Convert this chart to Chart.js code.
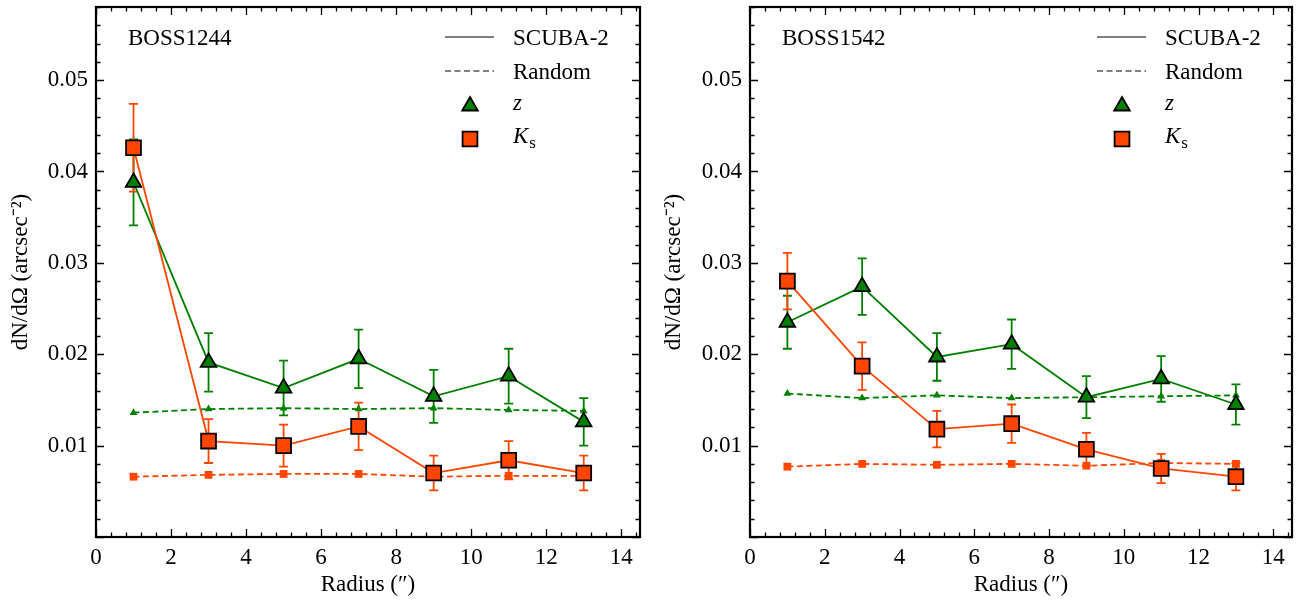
<!DOCTYPE html>
<html lang="en">
<head>
<meta charset="UTF-8" />
<title>dN/dΩ vs radius</title>
<script src="https://cdn.jsdelivr.net/npm/chart.js"></script>
<style>
  html, body { margin: 0; padding: 0; background: #fff; }
  #wrap { position: relative; width: 1307px; height: 604px; }
  canvas { position: absolute; top: 0; }
</style>
</head>
<body>
<div id="wrap">
  <canvas id="left" style="left:0"></canvas>
  <canvas id="right" style="left:653px"></canvas>
</div>
<script>
// radii (arcsec) and axis ticks
const radius = [1, 3, 5, 7, 9, 11, 13];
const xTicks = [0, 2, 4, 6, 8, 10, 12, 14];
const yTicks = [0.01, 0.02, 0.03, 0.04, 0.05];

// BOSS1244
const b1244ZScuba = [0.0388, 0.0191, 0.0163, 0.0195, 0.0154, 0.0176, 0.0126];
const b1244ZScubaErr = [0.0047, 0.0032, 0.0030, 0.0032, 0.0029, 0.0030, 0.0026];
const b1244ZRandom = [0.0136, 0.0140, 0.0141, 0.0140, 0.0141, 0.0139, 0.0138];
const b1244KsScuba = [0.0426, 0.0105, 0.0100, 0.0121, 0.0070, 0.0084, 0.0070];
const b1244KsScubaErr = [0.0048, 0.0024, 0.0023, 0.0026, 0.0019, 0.0021, 0.0019];
const b1244KsRandom = [0.0066, 0.0068, 0.0069, 0.0069, 0.0066, 0.0067, 0.0067];

// BOSS1542
const b1542ZScuba = [0.0235, 0.0274, 0.0197, 0.0211, 0.0153, 0.0173, 0.0145];
const b1542ZScubaErr = [0.0029, 0.0031, 0.0026, 0.0027, 0.0023, 0.0025, 0.0022];
const b1542ZRandom = [0.0157, 0.0152, 0.0155, 0.0152, 0.0153, 0.0154, 0.0155];
const b1542KsScuba = [0.0280, 0.0187, 0.0118, 0.0124, 0.0096, 0.0075, 0.0066];
const b1542KsScubaErr = [0.0031, 0.0026, 0.0020, 0.0021, 0.0018, 0.0016, 0.0015];
const b1542KsRandom = [0.0077, 0.0080, 0.0079, 0.0080, 0.0078, 0.0081, 0.0080];

const GREEN = '#008000';
const ORANGE = '#ff4500';
const FAMILY = "'Liberation Serif', serif";
const FSIZE = 23;
const DASH = [6, 3.5];

Chart.defaults.font.family = FAMILY;
Chart.defaults.font.size = FSIZE;
Chart.defaults.color = '#000';

const pts = vals => radius.map((r, i) => ({ x: r, y: vals[i] }));

// error bars drawn under the markers
const errorBars = {
  id: 'errorBars',
  beforeDatasetsDraw(chart) {
    const { ctx, scales: { x, y } } = chart;
    ctx.save();
    ctx.lineWidth = 1.8;
    chart.data.datasets.forEach(ds => {
      if (!ds.errors) return;
      ctx.strokeStyle = ds.borderColor;
      ds.data.forEach((p, i) => {
        const px = x.getPixelForValue(p.x);
        const y0 = y.getPixelForValue(p.y - ds.errors[i]);
        const y1 = y.getPixelForValue(p.y + ds.errors[i]);
        ctx.beginPath();
        ctx.moveTo(px, y0); ctx.lineTo(px, y1);
        ctx.moveTo(px - 4.5, y0); ctx.lineTo(px + 4.5, y0);
        ctx.moveTo(px - 4.5, y1); ctx.lineTo(px + 4.5, y1);
        ctx.stroke();
      });
    });
    ctx.restore();
  }
};

// matplotlib-like frame with inward ticks on all sides
const frameTicks = {
  id: 'frameTicks',
  afterDraw(chart) {
    const { ctx, chartArea: a, scales: { x, y } } = chart;
    ctx.save();
    ctx.strokeStyle = '#000';
    ctx.lineWidth = 1.3;
    ctx.beginPath();
    for (let i = 0; i <= 36; i++) {
      const px = Math.round(x.getPixelForValue(i * 0.4)) + 0.5;
      const len = i % 5 === 0 ? 8 : 4.5;
      ctx.moveTo(px, a.bottom); ctx.lineTo(px, a.bottom - len);
      ctx.moveTo(px, a.top); ctx.lineTo(px, a.top + len);
    }
    for (let i = 0; i <= 29; i++) {
      const py = Math.round(y.getPixelForValue(i * 0.002)) + 0.5;
      const len = i % 5 === 0 ? 8 : 4.5;
      ctx.moveTo(a.left, py); ctx.lineTo(a.left + len, py);
      ctx.moveTo(a.right, py); ctx.lineTo(a.right - len, py);
    }
    ctx.stroke();
    ctx.lineWidth = 2.2;
    ctx.strokeRect(a.left, a.top, a.right - a.left, a.bottom - a.top);
    ctx.restore();
  }
};

// panel name and legend
const panelLegend = {
  id: 'panelLegend',
  afterDraw(chart, args, opts) {
    const { ctx, chartArea: a } = chart;
    ctx.save();
    ctx.fillStyle = '#000';
    ctx.textBaseline = 'middle';
    ctx.textAlign = 'left';
    ctx.font = FSIZE + 'px ' + FAMILY;
    ctx.fillText(opts.title, a.left + 32, a.top + 32);

    const lx0 = a.right - 195, lx1 = a.right - 146, tx = a.right - 127, mx = a.right - 170;
    const rows = [a.top + 32, a.top + 66, a.top + 97, a.top + 130];
    ctx.strokeStyle = '#808080';
    ctx.lineWidth = 1.8;
    ctx.beginPath(); ctx.moveTo(lx0, rows[0] - 2); ctx.lineTo(lx1, rows[0] - 2); ctx.stroke();
    ctx.setLineDash(DASH);
    ctx.beginPath(); ctx.moveTo(lx0, rows[1] - 2); ctx.lineTo(lx1, rows[1] - 2); ctx.stroke();
    ctx.setLineDash([]);
    ctx.fillText('SCUBA-2', tx, rows[0]);
    ctx.fillText('Random', tx, rows[1]);

    ctx.fillStyle = GREEN; ctx.strokeStyle = '#000';
    Chart.helpers.drawPoint(ctx, { pointStyle: 'triangle', radius: 9, borderWidth: 1.8, rotation: 0 }, mx, rows[2] + 2);
    ctx.fillStyle = ORANGE;
    Chart.helpers.drawPoint(ctx, { pointStyle: 'rect', radius: 10.5, borderWidth: 1.8, rotation: 0 }, mx, rows[3] + 2);

    ctx.fillStyle = '#000';
    ctx.font = 'italic ' + FSIZE + 'px ' + FAMILY;
    ctx.fillText('z', tx, rows[2]);
    ctx.fillText('K', tx, rows[3]);
    const kw = ctx.measureText('K').width;
    ctx.font = Math.round(FSIZE * 0.72) + 'px ' + FAMILY;
    ctx.fillText('s', tx + kw + 1, rows[3] + 7);
    ctx.restore();
  }
};

function makePanel(id, title, yWidth, rightPad, zS, zSE, zR, kS, kSE, kR) {
  const canvas = document.getElementById(id);
  const w = id === 'left' ? 653 : 654;
  canvas.width = w; canvas.height = 604;
  canvas.style.width = w + 'px'; canvas.style.height = '604px';
  const solid = { borderWidth: 1.8, tension: 0, pointBorderColor: '#000', pointBorderWidth: 1.8, pointHoverRadius: 0 };
  const dashed = { borderWidth: 1.8, tension: 0, borderDash: DASH, pointBorderWidth: 0 };
  return new Chart(canvas, {
    type: 'line',
    data: {
      datasets: [
        Object.assign({ label: 'z random', data: pts(zR), borderColor: GREEN, pointBackgroundColor: GREEN,
          pointBorderColor: GREEN, pointStyle: 'triangle', pointRadius: 4.5, order: 4 }, dashed),
        Object.assign({ label: 'Ks random', data: pts(kR), borderColor: ORANGE, pointBackgroundColor: ORANGE,
          pointBorderColor: ORANGE, pointStyle: 'rect', pointRadius: 5.5, order: 3 }, dashed),
        Object.assign({ label: 'z', data: pts(zS), errors: zSE, borderColor: GREEN, pointBackgroundColor: GREEN,
          pointStyle: 'triangle', pointRadius: 9, order: 2 }, solid),
        Object.assign({ label: 'Ks', data: pts(kS), errors: kSE, borderColor: ORANGE, pointBackgroundColor: ORANGE,
          pointStyle: 'rect', pointRadius: 10.5, order: 1 }, solid)
      ]
    },
    options: {
      responsive: false,
      animation: false,
      layout: { autoPadding: false, padding: { top: 7, right: rightPad, left: 0, bottom: 0 } },
      plugins: {
        legend: { display: false },
        tooltip: { enabled: false },
        panelLegend: { title: title }
      },
      scales: {
        x: {
          type: 'linear', min: 0, max: 14.5,
          afterBuildTicks: s => { s.ticks = xTicks.map(v => ({ value: v })); },
          afterFit: s => { s.height = 67; s.paddingLeft = 0; s.paddingRight = 0; },
          grid: { display: false, drawTicks: false },
          border: { display: false },
          ticks: { padding: 7, maxRotation: 0, callback: v => String(v) },
          title: { display: true, text: 'Radius (″)', padding: { top: 0, bottom: 5 } }
        },
        y: {
          type: 'linear', min: 0, max: 0.058,
          afterBuildTicks: s => { s.ticks = yTicks.map(v => ({ value: v })); },
          afterFit: s => { s.width = yWidth; s.paddingTop = 0; s.paddingBottom = 0; },
          grid: { display: false, drawTicks: false },
          border: { display: false },
          ticks: { padding: 8, callback: v => v.toFixed(2) },
          title: { display: true, text: 'dN/dΩ (arcsec⁻²)', padding: { top: 7, bottom: 0 } }
        }
      }
    },
    plugins: [errorBars, frameTicks, panelLegend]
  });
}

makePanel('left', 'BOSS1244', 96, 13,
  b1244ZScuba, b1244ZScubaErr, b1244ZRandom, b1244KsScuba, b1244KsScubaErr, b1244KsRandom);
makePanel('right', 'BOSS1542', 97, 15,
  b1542ZScuba, b1542ZScubaErr, b1542ZRandom, b1542KsScuba, b1542KsScubaErr, b1542KsRandom);
</script>
</body>
</html>
